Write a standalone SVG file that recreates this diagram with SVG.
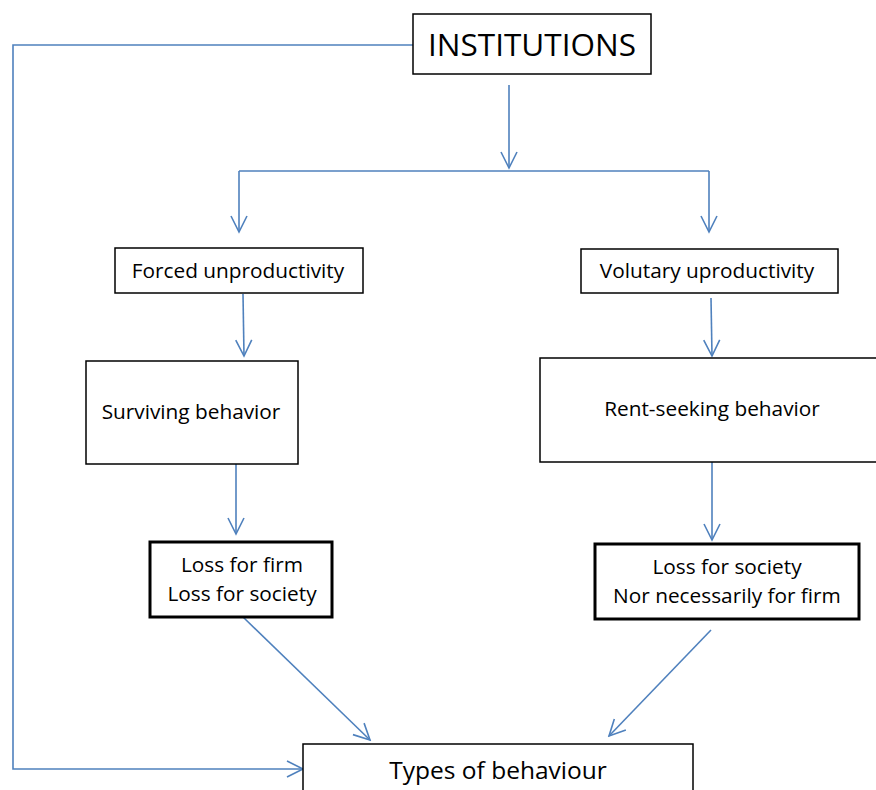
<svg xmlns="http://www.w3.org/2000/svg" width="876" height="790" viewBox="0 0 876 790">
<style>
.box{fill:#fff;stroke:#000;stroke-width:1.5}
.thick{fill:#fff;stroke:#000;stroke-width:3}
.c{fill:none;stroke:#4f81bd;stroke-width:1.6}
text{font-family:"Open Sans","Liberation Sans",sans-serif;fill:#000;text-anchor:middle}
.t{font-size:20.8px}
</style>
<defs>
<marker id="a" viewBox="0 0 20 20" refX="18" refY="10" markerWidth="20" markerHeight="20" markerUnits="userSpaceOnUse" orient="auto">
<path d="M2,2 L18,10 L2,18" fill="none" stroke="#4f81bd" stroke-width="1.6"/>
</marker>
</defs>
<rect width="876" height="790" fill="#fff"/>
<g id="connectors">
<path class="c" d="M413,45 H13 V769 H303" marker-end="url(#a)" stroke-width="2"/>
<path class="c" d="M509,85 V168" marker-end="url(#a)"/>
<path class="c" d="M239,171 H709"/>
<path class="c" d="M239,171 V232" marker-end="url(#a)"/>
<path class="c" d="M709,171 V232" marker-end="url(#a)"/>
<path class="c" d="M243,294 L244,356" marker-end="url(#a)"/>
<path class="c" d="M236,462 V534" marker-end="url(#a)"/>
<path class="c" d="M243,617 L370,740" marker-end="url(#a)"/>
<path class="c" d="M711,298 L712,356" marker-end="url(#a)"/>
<path class="c" d="M712,462 V540" marker-end="url(#a)"/>
<path class="c" d="M711,630 L609,736" marker-end="url(#a)"/>
</g>
<g id="institutions"><rect class="box" x="413" y="14" width="238" height="60"/><text x="532" y="56" font-size="31.5">INSTITUTIONS</text></g>
<g id="forced"><rect class="box" x="115" y="248" width="248" height="45"/><text class="t" x="238" y="278">Forced unproductivity</text></g>
<g id="voluntary"><rect class="box" x="581" y="249" width="257" height="44"/><text class="t" x="707" y="278">Volutary uproductivity</text></g>
<g id="surviving"><rect class="box" x="86" y="361" width="212" height="103"/><text class="t" x="191" y="419">Surviving behavior</text></g>
<g id="rent"><rect class="box" x="540" y="358" width="340" height="104"/><text class="t" x="712" y="416">Rent-seeking behavior</text></g>
<g id="lossfirm"><rect class="thick" x="150" y="542" width="182" height="75"/><text class="t" x="242" y="572">Loss for firm</text><text class="t" x="242" y="601">Loss for society</text></g>
<g id="losssociety"><rect class="thick" x="595" y="544" width="264" height="75"/><text class="t" x="727" y="574">Loss for society</text><text class="t" x="727" y="603">Nor necessarily for firm</text></g>
<g id="types"><rect class="box" x="303" y="744" width="390" height="60"/><text x="498" y="779" font-size="24.5">Types of behaviour</text></g>
</svg>
